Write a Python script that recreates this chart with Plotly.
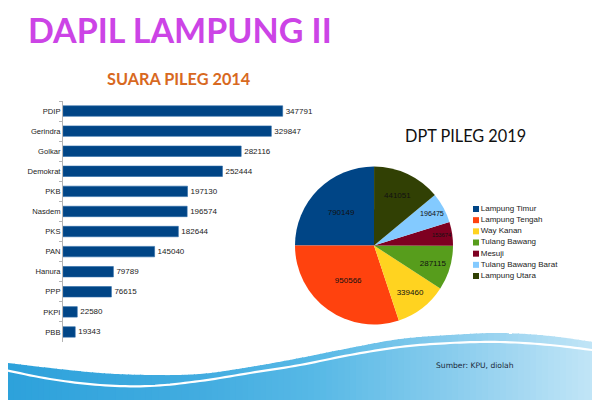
import numpy as np
import plotly.graph_objects as go

# ---------------- data ----------------
parties = ["PDIP", "Gerindra", "Golkar", "Demokrat", "PKB", "Nasdem", "PKS",
           "PAN", "Hanura", "PPP", "PKPI", "PBB"]
votes_2014 = [347791, 329847, 282116, 252444, 197130, 196574, 182644,
              145040, 79789, 76615, 22580, 19343]

regions = ["Lampung Timur", "Lampung Tengah", "Way Kanan", "Tulang Bawang",
           "Mesuji", "Tulang Bawang Barat", "Lampung Utara"]
dpt_2019 = [790149, 950566, 339460, 287115, 153674, 196475, 441051]
region_colors = ["#004586", "#ff420e", "#ffd320", "#579d1c",
                 "#7e0021", "#83caff", "#314004"]

main_title = "DAPIL LAMPUNG II"
bar_title = "SUARA PILEG 2014"
pie_title = "DPT PILEG 2019"
source_note = "Sumber: KPU, diolah"

# the page body has an 8px margin, so the figure is sized to fit the window
OFF = 8
W, H = 600 - OFF, 400 - OFF


def px(x):  # page pixel -> paper x
    return (x - OFF) / W


def py(y):  # page pixel -> paper y
    return 1 - (y - OFF) / H


fig = go.Figure()

# ---------------- bar chart ----------------
fig.add_trace(go.Bar(
    x=votes_2014, y=parties, orientation="h",
    marker=dict(color="#004586", line=dict(color="#2a6aa8", width=0.6)),
    text=[str(v) for v in votes_2014], textposition="outside",
    textfont=dict(family="Liberation Sans", size=8, color="#222"),
    cliponaxis=False, hoverinfo="x+y", showlegend=False,
    xaxis="x", yaxis="y",
))

# ---------------- pie chart ----------------
fig.add_trace(go.Pie(
    labels=regions, values=dpt_2019, sort=False, direction="counterclockwise",
    rotation=-90, marker=dict(colors=region_colors, line=dict(width=0)),
    text=[str(v) for v in dpt_2019], textinfo="text", textposition="inside",
    insidetextorientation="horizontal",
    insidetextfont=dict(family="Liberation Sans", size=8, color="#111"),
    domain=dict(x=[px(295), px(453)], y=[py(325), py(166)]),
    showlegend=False,
))

# ---------------- pie legend (drawn as markers on a category axis) ----------------
fig.add_trace(go.Scatter(
    x=[0] * len(regions), y=regions, mode="markers+text",
    marker=dict(symbol="square", size=6, color=region_colors),
    text=regions, textposition="middle right",
    textfont=dict(family="Liberation Sans", size=8, color="#222"),
    cliponaxis=False, hoverinfo="skip", showlegend=False,
    xaxis="x2", yaxis="y2",
))

# ---------------- decorative wave background (page pixels) ----------------
ctrl_x = np.array([0, 50, 100, 150, 200, 250, 300, 350, 400, 450, 500, 550, 600], float)
ctrl_top = np.array([362, 368, 373, 375, 374, 367, 358, 348, 339, 335, 333, 336, 343], float)
ctrl_wht = np.array([369, 379, 385, 386, 381, 373, 365, 355, 347, 343, 342, 345, 351], float)


def catmull(xs, ys, n=10):
    out_x, out_y = [], []
    P = np.column_stack([xs, ys])
    P = np.vstack([2 * P[0] - P[1], P, 2 * P[-1] - P[-2]])
    for i in range(1, len(P) - 2):
        p0, p1, p2, p3 = P[i - 1], P[i], P[i + 1], P[i + 2]
        for t in np.linspace(0, 1, n, endpoint=False):
            t2, t3 = t * t, t * t * t
            pt = 0.5 * ((2 * p1) + (-p0 + p2) * t + (2 * p0 - 5 * p1 + 4 * p2 - p3) * t2
                        + (-p0 + 3 * p1 - 3 * p2 + p3) * t3)
            out_x.append(pt[0])
            out_y.append(pt[1])
    out_x.append(xs[-1])
    out_y.append(ys[-1])
    return np.array(out_x), np.array(out_y)


tx, ty = catmull(ctrl_x, ctrl_top)
wx, wy = catmull(ctrl_x, ctrl_wht)

grad_x = [0, 200, 320, 450, 600]
grad_c = [(44, 161, 219), (66, 172, 224), (88, 185, 230), (136, 204, 237), (196, 230, 247)]

shapes = []
step = 6
for x0 in range(OFF, 600, step):
    x1 = min(x0 + step + 1, 600)
    xs = np.linspace(x0, x1, 4)
    ys = np.interp(xs, tx, ty)
    xm = (x0 + x1) / 2
    col = tuple(int(round(np.interp(xm, grad_x, [c[k] for c in grad_c]))) for k in range(3))
    path = "M{:.4f},{:.4f}".format(px(xs[0]), py(ys[0]))
    for a, b in zip(xs[1:], ys[1:]):
        path += " L{:.4f},{:.4f}".format(px(a), py(b))
    path += " L{:.4f},{:.4f} L{:.4f},{:.4f} Z".format(px(x1), py(402), px(x0), py(402))
    shapes.append(dict(type="path", xref="paper", yref="paper", path=path,
                       fillcolor="rgb{}".format(col), line=dict(width=0), layer="below"))

wpath = "M{:.4f},{:.4f}".format(px(wx[0]), py(wy[0]))
for a, b in zip(wx[1:], wy[1:]):
    wpath += " L{:.4f},{:.4f}".format(px(a), py(b))
shapes.append(dict(type="path", xref="paper", yref="paper", path=wpath,
                   line=dict(color="white", width=2.2), layer="below"))

# ---------------- layout ----------------
fig.update_layout(
    width=W, height=H, autosize=False,
    margin=dict(l=0, r=0, t=0, b=0),
    paper_bgcolor="white", plot_bgcolor="rgba(0,0,0,0)",
    showlegend=False,
    shapes=shapes,
    xaxis=dict(domain=[px(63), px(303)], range=[0, 380000], visible=False, fixedrange=True),
    yaxis=dict(domain=[py(342), py(101)], type="category", categoryorder="array",
               categoryarray=parties, autorange="reversed",
               showline=True, linecolor="#b3b3b3", linewidth=1,
               ticks="outside", ticklen=3, tickcolor="#b3b3b3", tickson="boundaries",
               tickfont=dict(family="Liberation Sans", size=7.6, color="#222"),
               showgrid=False, zeroline=False, fixedrange=True, automargin=False),
    bargap=0.48,
    xaxis2=dict(domain=[px(476), 1], range=[0, 1], visible=False, fixedrange=True),
    yaxis2=dict(domain=[py(281.6), py(203.4)], type="category", categoryorder="array",
                categoryarray=regions, range=[len(regions) - 0.5, -0.5],
                visible=False, fixedrange=True),
    annotations=[
        dict(text="<b>" + main_title + "</b>", xref="paper", yref="paper",
             x=px(27), y=1, xanchor="left", yanchor="top", showarrow=False,
             borderpad=0,
             font=dict(family="Lato", size=34, color="#cc44e6")),
        dict(text="<b>" + bar_title + "</b>", xref="paper", yref="paper",
             x=px(179), y=py(78), xanchor="center", yanchor="middle", showarrow=False,
             font=dict(family="Lato", size=16.3, color="#d8691f")),
        dict(text=pie_title, xref="paper", yref="paper",
             x=px(465), y=py(135), xanchor="center", yanchor="middle", showarrow=False,
             font=dict(family="Lato", size=16.3, color="#111")),
        dict(text=source_note, xref="paper", yref="paper",
             x=px(434), y=py(365), xanchor="left", yanchor="middle", showarrow=False,
             font=dict(family="DejaVu Sans", size=7.6, color="#1a2a3a")),
    ],
)

fig.write_html("out.html")
